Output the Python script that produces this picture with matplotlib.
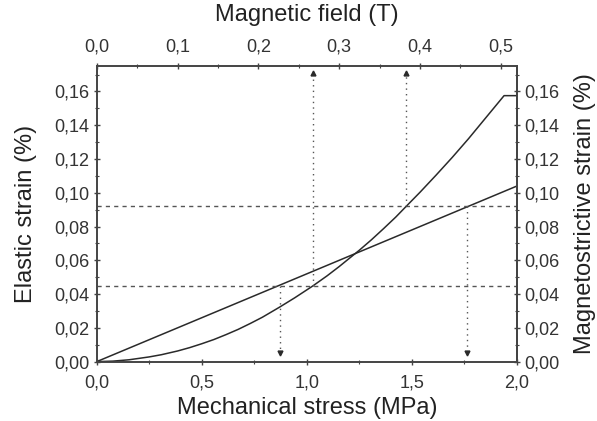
import numpy as np
import matplotlib
matplotlib.use('Agg')
import matplotlib.pyplot as plt
from matplotlib.ticker import FuncFormatter, MultipleLocator

plt.rcParams['font.family'] = ['Liberation Sans', 'DejaVu Sans']

# elastic strain vs mechanical stress (bottom / left axes)
stress = [0.0, 2.0]
elastic = [0.0, 0.104]

# magnetostrictive strain vs magnetic field (top / right axes)
field = [0.00, 0.02, 0.04, 0.065, 0.08, 0.10, 0.115, 0.13, 0.145, 0.16, 0.175, 0.19,
         0.205, 0.226, 0.245, 0.267, 0.285, 0.30, 0.325, 0.34, 0.355, 0.37, 0.383,
         0.40, 0.42, 0.44, 0.46, 0.48, 0.504, 0.52]
magneto = [0.000, 0.0003, 0.0011, 0.0028, 0.0041, 0.0063, 0.0083, 0.0106, 0.0131, 0.0160,
           0.0191, 0.0226, 0.0263, 0.0322, 0.0378, 0.0447, 0.0508, 0.0563, 0.0660, 0.0722,
           0.0788, 0.0856, 0.0920, 0.1003, 0.1105, 0.1210, 0.1320, 0.1436, 0.1575, 0.1575]

# guide lines
h_levels = [0.045, 0.092]
stress_marks = [0.87, 1.76]
field_marks = [0.267, 0.383]

line_col = '#2a2a2a'
guide_col = '#555555'

def comma(v, pos, nd):
    return f'{v:.{nd}f}'.replace('.', ',')

fig = plt.figure(figsize=(5.97, 4.21), dpi=100)
ax = fig.add_axes([0.162, 0.141, 0.704, 0.702])

ax.plot(stress, elastic, color=line_col, lw=1.1)
ax.set_xlim(0, 2.0)
ax.set_ylim(0, 0.175)

for y in h_levels:
    ax.axhline(y, color=guide_col, lw=1.0, ls=(0, (3, 3)))

for i, x in enumerate(stress_marks):
    ax.plot([x, x], [h_levels[i], 0.005], color=guide_col, lw=1.0, ls=(0, (1, 3)))
    ax.plot(x, 0.005, marker='v', ms=3.5, color=line_col)

ax.xaxis.set_major_locator(MultipleLocator(0.5))
ax.xaxis.set_minor_locator(MultipleLocator(0.25))
ax.yaxis.set_major_locator(MultipleLocator(0.02))
ax.yaxis.set_minor_locator(MultipleLocator(0.01))
ax.xaxis.set_major_formatter(FuncFormatter(lambda v, p: comma(v, p, 1)))
ax.yaxis.set_major_formatter(FuncFormatter(lambda v, p: comma(v, p, 2)))
ax.set_xlabel('Mechanical stress (MPa)', fontsize=17, color='#222222', labelpad=4)
ax.set_ylabel('Elastic strain (%)', fontsize=17, color='#222222', labelpad=12)

top = ax.twiny()
top.plot(field, magneto, color=line_col, lw=1.1)
for i, h in enumerate(field_marks):
    top.plot([h, h], [h_levels[i], 0.171], color=guide_col, lw=1.0, ls=(0, (1, 3)))
    top.plot(h, 0.171, marker='^', ms=3.5, color=line_col)
top.set_xlim(0, 0.52)
top.xaxis.set_major_locator(MultipleLocator(0.1))
top.xaxis.set_minor_locator(MultipleLocator(0.05))
top.xaxis.set_major_formatter(FuncFormatter(lambda v, p: comma(v, p, 1)))
top.set_xlabel('Magnetic field (T)', fontsize=17, color='#222222', labelpad=13)

right = ax.secondary_yaxis('right')
right.yaxis.set_major_locator(MultipleLocator(0.02))
right.yaxis.set_minor_locator(MultipleLocator(0.01))
right.yaxis.set_major_formatter(FuncFormatter(lambda v, p: comma(v, p, 2)))
right.set_ylabel('Magnetostrictive strain (%)', fontsize=17, color='#222222', labelpad=10)

for a in (ax, top, right):
    for s in a.spines.values():
        s.set_color('#444444')
        s.set_linewidth(1.2)
    a.tick_params(which='major', direction='inout', length=5, width=1, colors='#444444',
                  labelsize=13, labelcolor='#333333', pad=3)
    a.tick_params(which='minor', direction='inout', length=3, width=0.8, colors='#444444')
ax.tick_params(axis='x', which='major', pad=7)
top.tick_params(axis='x', which='major', pad=5)

fig.savefig('out.png', dpi=100)
